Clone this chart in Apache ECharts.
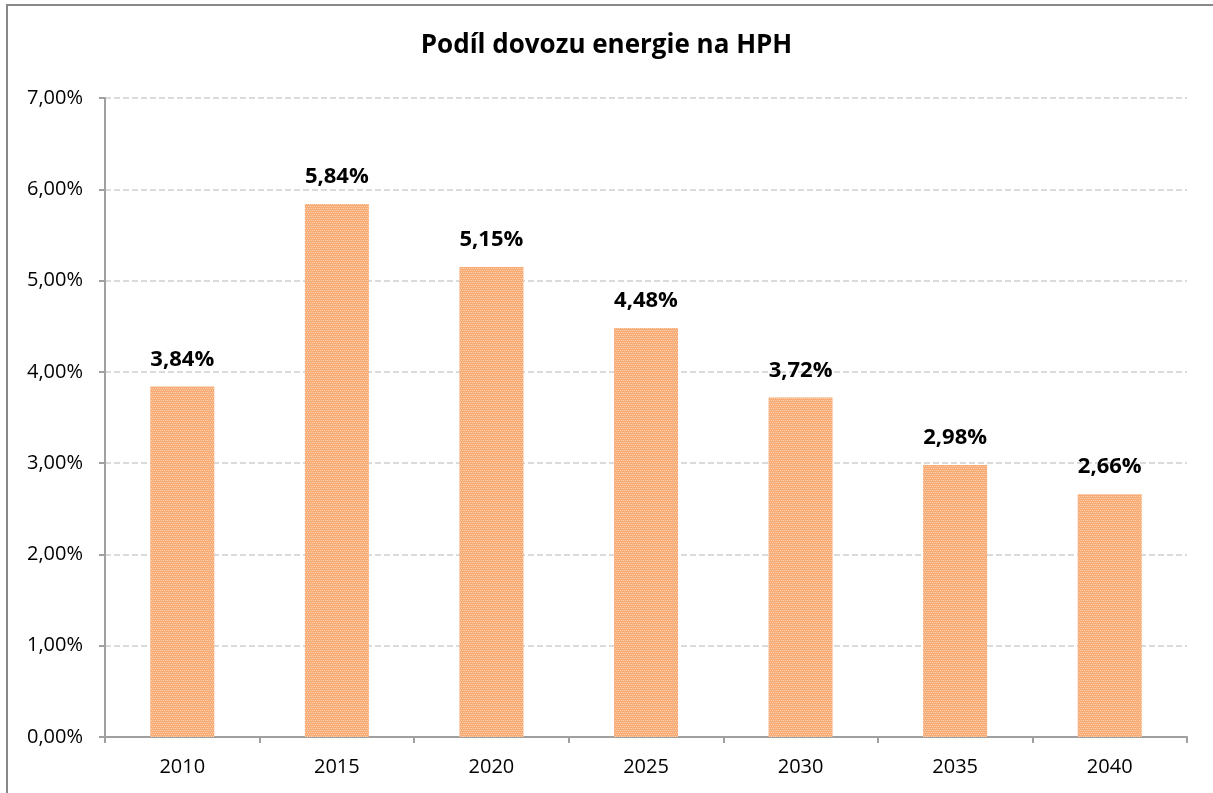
<!DOCTYPE html>
<html>
<head>
<meta charset="utf-8">
<script src="https://cdn.jsdelivr.net/npm/echarts@6/dist/echarts.min.js"></script>
<style>
html,body{margin:0;padding:0;background:#fff;}
#chart{width:1213px;height:793px;}
</style>
</head>
<body>
<div id="chart"></div>
<script>
//podíl dovozu energie na HPH
var years = ['2010', '2015', '2020', '2025', '2030', '2035', '2040'];
var shareData = [3.84, 5.84, 5.15, 4.48, 3.72, 2.98, 2.66];
var yTicks = [0, 1, 2, 3, 4, 5, 6, 7];

function pct(v) {
    return v.toFixed(2).replace('.', ',') + '%';
}

var chart = echarts.init(document.getElementById('chart'));
var option = {
    animation: false,
    textStyle: {fontFamily: 'Open Sans'},
    title: {
        text: 'Podíl dovozu energie na HPH',
        left: 'center',
        top: 28,
        textStyle: {fontSize: 26, fontWeight: 'bold', color: '#000', fontFamily: 'Open Sans'}
    },
    graphic: [{
        type: 'rect',
        shape: {x: 7, y: 5, width: 1215, height: 800},
        style: {fill: 'none', stroke: '#888', lineWidth: 2}
    }],
    grid: {left: 105, right: 26, top: 98, bottom: 56},
    xAxis: {
        type: 'category',
        data: years,
        axisLine: {lineStyle: {color: '#a0a0a0', width: 2}},
        axisTick: {show: true, alignWithLabel: false, length: 6, lineStyle: {color: '#a0a0a0', width: 2}},
        axisLabel: {color: '#000', fontSize: 20, margin: 20}
    },
    yAxis: {
        type: 'value',
        min: yTicks[0],
        max: yTicks[yTicks.length - 1],
        interval: 1,
        axisLine: {show: true, lineStyle: {color: '#a0a0a0', width: 2}},
        axisTick: {show: true, length: 6, lineStyle: {color: '#a0a0a0', width: 2}},
        axisLabel: {color: '#000', fontSize: 20, margin: 22, formatter: pct},
        splitLine: {lineStyle: {color: '#d0d0d0', type: [6, 3], width: 1.5}}
    },
    series: [{
        type: 'bar',
        data: shareData,
        barWidth: 64,
        itemStyle: {
            color: '#f8ab74',
            decal: {
                symbol: 'rect',
                symbolSize: 1,
                color: 'rgba(255,255,255,0.45)',
                dashArrayX: [[1, 1], [0, 1, 1, 0]],
                dashArrayY: [1, 1],
                rotation: 0
            }
        },
        label: {
            show: true,
            position: 'top',
            distance: 16,
            color: '#000',
            fontSize: 22,
            fontWeight: 'bold',
            formatter: function (p) { return pct(p.value); }
        }
    }]
};
chart.setOption(option);
</script>
</body>
</html>
